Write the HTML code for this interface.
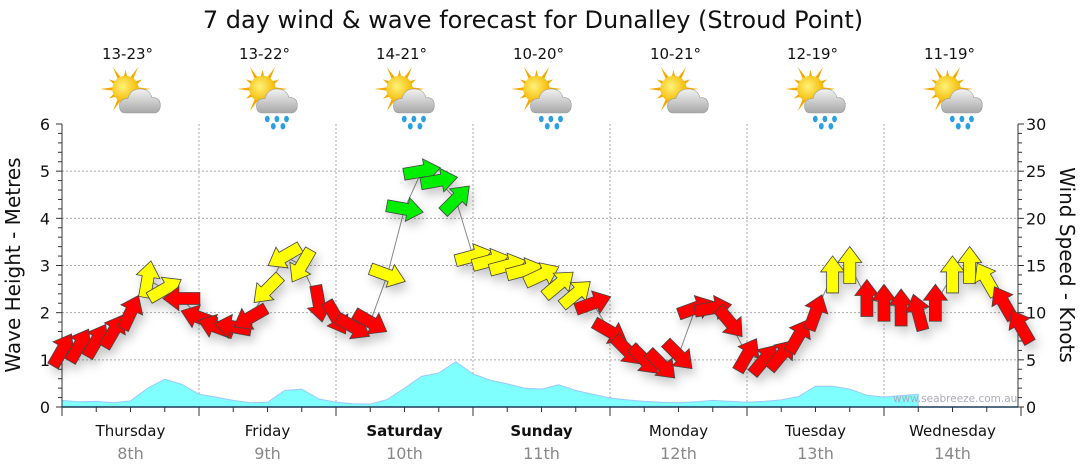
<!DOCTYPE html>
<html><head><meta charset="utf-8"><style>
html,body{margin:0;padding:0;background:#fff}
svg{display:block;font-family:"DejaVu Sans","Liberation Sans",sans-serif}
</style></head><body>
<svg id="chart" width="1080" height="475" viewBox="0 0 1080 475" xmlns="http://www.w3.org/2000/svg">
<defs>
<filter id="sh" x="-50%" y="-50%" width="200%" height="200%"><feDropShadow dx="3" dy="6" stdDeviation="5" flood-color="#000" flood-opacity="0.22"/></filter>
<radialGradient id="sunG" cx="40%" cy="40%" r="60%"><stop offset="0" stop-color="#fff27a"/><stop offset="1" stop-color="#f5b800"/></radialGradient>
<linearGradient id="cloudG" x1="0" y1="0" x2="0" y2="1"><stop offset="0" stop-color="#f2f2f2"/><stop offset="1" stop-color="#a8a8a8"/></linearGradient>
</defs>
<text x="533" y="28" text-anchor="middle" font-size="24" fill="#111">7 day wind &amp; wave forecast for Dunalley (Stroud Point)</text>
<g id="grid"></g><g id="wave"></g><g id="axes"></g><g id="wind"></g><g id="icons"></g>
<text x="893" y="402" font-size="10.5" fill="#aab">www.seabreeze.com.au</text>
<text transform="translate(20,265) rotate(-90)" text-anchor="middle" font-size="20" fill="#111">Wave Height - Metres</text>
<text transform="translate(1060,265) rotate(90)" text-anchor="middle" font-size="20" fill="#111">Wind Speed - Knots</text>
</svg>
<script>
const days=["Thursday","Friday","Saturday","Sunday","Monday","Tuesday","Wednesday"];
const dates=["8th","9th","10th","11th","12th","13th","14th"];
const boldDays=[false,false,true,true,false,false,false];
const temps=["13-23°","13-22°","14-21°","10-20°","10-21°","12-19°","11-19°"];
const rainy=[false,true,true,true,false,true,true];
const waveTicks=[0,1,2,3,4,5,6];
const windTicks=[0,5,10,15,20,25,30];
const windSpeed=[6,6.5,7,8,10,13.5,12.5,11.5, 9.5,8.5,8.5,9.5,12.5,16,15,11, 9.5,8.5,9,14,21,25,24,22, 16,15.5,15,14.5,14,13,12,11, 8,6,5,4.5,5.5,10.5,10.5,9, 5.5,5,5.5,7.5,10,14,15,11.5, 11,10.5,10,11,14,15,13.5,11,8.5];
const windDir=[30,30,30,30,25,10,60,270, 290,290,280,240,225,240,210,170, 150,120,120,110,100,80,80,45, 75,75,75,75,65,50,50,70, 120,135,135,135,135,70,80,140, 30,40,40,30,20,0,0,0, 0,0,345,0,0,0,330,330,330];
const waveHeight=[0.14,0.11,0.12,0.09,0.13,0.4,0.59,0.48, 0.27,0.21,0.14,0.09,0.1,0.35,0.38,0.17, 0.1,0.07,0.06,0.16,0.4,0.65,0.72,0.96, 0.7,0.57,0.49,0.4,0.38,0.47,0.35,0.27, 0.19,0.15,0.12,0.1,0.09,0.11,0.14,0.12, 0.1,0.12,0.15,0.22,0.44,0.44,0.38,0.25, 0.21,0.24,0.27];
const NS="http://www.w3.org/2000/svg";
const X0=62,DW=137,Y0=407,YT=124;
const xH=h=>X0+h*DW/24;
const yM=m=>Y0-m*(Y0-YT)/6;
const yK=k=>Y0-k*(Y0-YT)/30;
function mk(p,t,a){const e=document.createElementNS(NS,t);for(const k in a)e.setAttribute(k,a[k]);p.appendChild(e);return e;}
const grid=document.getElementById('grid'),axes=document.getElementById('axes');
waveTicks.forEach(v=>{if(v>0&&v<6){const l=mk(grid,'line',{x1:X0,x2:1018,y1:yM(v),y2:yM(v),stroke:'#aaa','stroke-dasharray':'2,2'});

}
const t=mk(axes,'text',{x:50,y:yM(v)+6,'text-anchor':'end','font-size':16,fill:'#111'});t.textContent=v;

});
windTicks.forEach(v=>{const t=mk(axes,'text',{x:1026,y:yK(v)+6,'font-size':16,fill:'#111'});t.textContent=v;

});
for(let m=0;m<=30;m++){const y=yM(m*0.2);mk(axes,'line',{x1:X0-(m%5?4:6),x2:X0,y1:y,y2:y,stroke:'#333'});mk(axes,'line',{x1:1018,x2:1018+(m%5?4:6),y1:yK(m),y2:yK(m),stroke:'#333'});}
mk(axes,'line',{x1:X0,x2:X0,y1:YT,y2:Y0,stroke:'#333'});
mk(axes,'line',{x1:1018,x2:1018,y1:YT,y2:Y0,stroke:'#333'});
mk(axes,'line',{x1:X0,x2:1018,y1:Y0,y2:Y0,stroke:'#1a3a5a','stroke-width':1.5});
for(let h=0;h<=168;h+=6){const x=xH(h);mk(axes,'line',{x1:x,x2:x,y1:Y0,y2:Y0+(h%24?5:9),stroke:'#333'});
if(h%24==0&&h>0&&h<168){const l=mk(grid,'line',{x1:x,x2:x,y1:YT,y2:Y0,stroke:'#aaa','stroke-dasharray':'2,2'});

}}
days.forEach((d,i)=>{const cx=X0+DW*i+DW/2;
const t=mk(axes,'text',{x:cx,y:436,'text-anchor':'middle','font-size':15,fill:'#111','font-weight':boldDays[i]?'bold':'normal'});t.textContent=d;


const t2=mk(axes,'text',{x:cx,y:459,'text-anchor':'middle','font-size':16,fill:'#888'});t2.textContent=dates[i];


const t3=mk(axes,'text',{x:cx-3,y:59,'text-anchor':'middle','font-size':15,fill:'#111'});t3.textContent=temps[i];


const ic=mk(document.getElementById('icons'),'g',{transform:`translate(${cx-5},89) scale(1.2)`});


for(let r=0;r<12;r++){const a=r*30*Math.PI/180,L=r%2?16:21;mk(ic,'polygon',{points:`${Math.cos(a-0.15)*10},${Math.sin(a-0.15)*10} ${Math.cos(a)*L},${Math.sin(a)*L} ${Math.cos(a+0.15)*10},${Math.sin(a+0.15)*10}`,fill:'#f5a800'});}
mk(ic,'circle',{cx:0,cy:0,r:11,fill:'url(#sunG)'});
mk(ic,'path',{d:'M0,20 Q-5,20 -5,14 Q-5,8 2,8 Q4,0 12,0 Q20,0 22,7 Q29,7 29,13.5 Q29,20 23,20 Z',fill:'url(#cloudG)',stroke:'#999','stroke-width':0.5});
if(rainy[i]){[[4,25],[12,25],[20,25],[9,31],[17,31]].forEach(p=>mk(ic,'ellipse',{cx:p[0],cy:p[1],rx:2,ry:2.7,fill:'#2aa0e0'}));}
});
const wg=document.getElementById('wave');
let d=`M${xH(0)},${Y0}`;waveHeight.forEach((v,i)=>d+=` L${xH(i*3)},${yM(v)}`);d+=` L${xH((waveHeight.length-1)*3)},${Y0} Z`;
const wa=mk(wg,'path',{d:d,fill:'#80ffff',stroke:'#9cc8ff','stroke-width':1});


const wnd=document.getElementById('wind');
let ld='';windSpeed.forEach((v,i)=>ld+=(i?' L':'M')+xH(i*3)+','+yK(v));
mk(wnd,'path',{d:ld,fill:'none',stroke:'#888','stroke-width':1});
const ag=mk(wnd,'g',{filter:'url(#sh)'});
windSpeed.forEach((v,i)=>{const col=v<12?'#ff0000':(v<17?'#ffff00':'#00ee00');
const a=mk(ag,'path',{d:'M0,-19 L12,-3 L6,-3 L6,18 L-6,18 L-6,-3 L-12,-3 Z',fill:col,stroke:'#444','stroke-width':0.8,'stroke-linejoin':'miter',transform:`translate(${xH(i*3)},${yK(v)}) rotate(${windDir[i]})`});

});
</script>
</body></html>
